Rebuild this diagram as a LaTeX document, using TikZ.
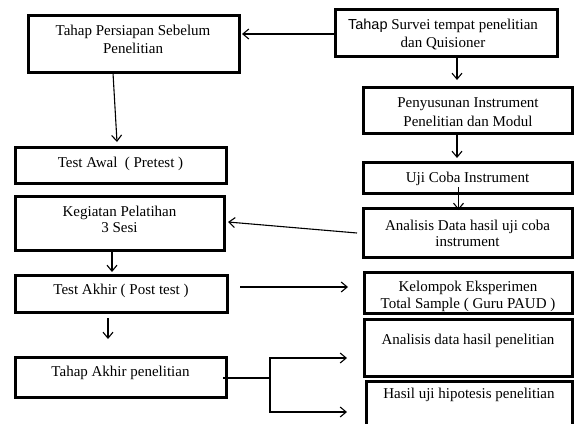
\documentclass[tikz,border=0pt]{standalone}
\usepackage{fontspec}
\setmainfont{Liberation Serif}
\newfontfamily\sansf{Liberation Sans}
\usetikzlibrary{arrows.meta,calc}
\begin{document}
\begin{tikzpicture}[x=1pt,y=-1pt,
  box/.style={draw, line width=3pt, inner sep=0pt, outer sep=0pt},
  lbl/.style={anchor=base, inner sep=0pt, font=\fontsize{15}{17}\selectfont},
  arr/.style={line width=1.1pt, -{Straight Barb[length=6pt,width=10pt]}},
  ln/.style={line width=1.1pt}]
\useasboundingbox (0,0) rectangle (575,423);
\fill[white] (0,0) rectangle (575,423);
\clip (0,0) rectangle (575,423);
% boxes
\node[box, minimum width=211pt, minimum height=57pt] (persiapan) at (133.5,43.5) {};
\node[box, minimum width=222pt, minimum height=47pt] (survei) at (446,32.5) {};
\node[box, minimum width=209pt, minimum height=46pt] (penyusunan) at (467.5,110) {};
\node[box, minimum width=211pt, minimum height=36pt] (testawal) at (120.5,165) {};
\node[box, minimum width=209pt, minimum height=31pt] (ujicoba) at (467.5,177.5) {};
\node[box, minimum width=209pt, minimum height=54pt] (kegiatan) at (119.5,223) {};
\node[box, minimum width=209pt, minimum height=49pt] (analisis) at (467.5,232.5) {};
\node[box, minimum width=212pt, minimum height=37pt] (testakhir) at (121,293.5) {};
\node[box, minimum width=208pt, minimum height=41pt] (kelompok) at (468,292.5) {};
\node[box, minimum width=208pt, minimum height=57pt] (analisishasil) at (468,347.5) {};
\node[box, minimum width=211pt, minimum height=40pt] (tahapakhir) at (120.5,377) {};
\node[box, minimum width=206pt, minimum height=62pt] (hasiluji) at (469,412) {};
% texts
\node[lbl] (t1a) at (133,35) {Tahap Persiapan Sebelum};
\node[lbl] (t1b) at (133,53) {Penelitian};
\node[lbl] (t2a) at (443,29) {{\sansf\fontsize{14.5}{17}\selectfont Tahap} Survei tempat penelitian};
\node[lbl] (t2b) at (443,47) {dan Quisioner};
\node[lbl] (t3a) at (468,107) {Penyusunan Instrument};
\node[lbl] (t3b) at (468,126) {Penelitian dan Modul};
\node[lbl] (t4) at (120.5,167) {Test Awal~ ( Pretest )};
\node[lbl] (t5) at (467.5,182) {Uji Coba Instrument};
\node[lbl] (t6a) at (119.5,216) {Kegiatan Pelatihan};
\node[lbl] (t6b) at (119.5,232) {3 Sesi};
\node[lbl] (t7a) at (467.5,230) {Analisis Data hasil uji coba};
\node[lbl] (t7b) at (467.5,246) {instrument};
\node[lbl] (t8) at (121,294) {Test Akhir ( Post test )};
\node[lbl] (t9a) at (468,291) {Kelompok Eksperimen};
\node[lbl] (t9b) at (468,308) {Total Sample ( Guru PAUD )};
\node[lbl] (t10) at (468,344) {Analisis data hasil penelitian};
\node[lbl] (t11) at (120.5,376) {Tahap Akhir penelitian};
\node[lbl] (t12) at (469,398) {Hasil uji hipotesis penelitian};
% connectors
\draw[arr] ($(survei.west)+(0,1.5)$) -- ($(persiapan.east)+(3,-9.5)$);
\draw[arr] ($(survei.south)+(11,1)$) -- ($(penyusunan.north)+(-10.5,-7)$);
\draw[arr] ($(persiapan.south)+(-20.5,1)$) -- ($(testawal.north)+(-3.5,-5)$);
\draw[arr] ($(penyusunan.south)+(-10.5,1)$) -- ($(ujicoba.north)+(-10.5,-4)$);
\draw[arr] ($(ujicoba.south)+(-9,-6)$) -- ($(analisis.north)+(-9,2)$);
\draw[arr] ($(analisis.west)+(-6,0.5)$) -- ($(kegiatan.east)+(4,-1)$);
\draw[arr] ($(kegiatan.south)+(-7.5,1)$) -- ($(testakhir.north)+(-9,-3)$);
\draw[arr] ($(testakhir.east)+(13,-6.5)$) -- ($(kelompok.west)+(-16,-5.5)$);
\draw[arr] ($(testakhir.south)+(-13,6)$) -- ($(tahapakhir.north)+(-12.5,-18)$);
\coordinate (fork) at (270,378);
\draw[ln] ($(tahapakhir.east)+(-3,1)$) -- (fork);
\draw[arr] (fork) |- ($(analisishasil.west)+(-17,10.5)$);
\draw[arr] (fork) |- ($(hasiluji.west)+(-19,0)$);
\end{tikzpicture}
\end{document}
